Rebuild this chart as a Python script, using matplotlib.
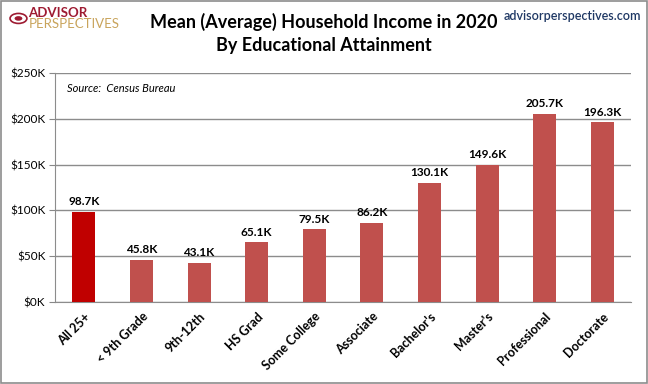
import matplotlib
matplotlib.use("Agg")
import matplotlib.pyplot as plt
from matplotlib.patches import Rectangle, Circle

categories = ["All 25+", "< 9th Grade", "9th-12th", "HS Grad", "Some College",
              "Associate", "Bachelor's", "Master's", "Professional", "Doctorate"]
income_k = [98.7, 45.8, 43.1, 65.1, 79.5, 86.2, 130.1, 149.6, 205.7, 196.3]
yticks = [0, 50, 100, 150, 200, 250]

plt.rcParams["font.family"] = ["Lato", "DejaVu Sans"]

fig = plt.figure(figsize=(6.48, 3.84), dpi=100)
ax = fig.add_axes([0.085, 0.2135, 0.889, 0.5965])

colors = ["#C00000"] + ["#C0504D"] * (len(categories) - 1)
x = list(range(len(categories)))
ax.bar(x, income_k, width=0.4, color=colors, zorder=3)
for xi, v in zip(x, income_k):
    ax.text(xi, v + 5, f"{v:.1f}K", ha="center", va="bottom",
            fontsize=8.5, fontweight="bold", zorder=4)

ax.set_xlim(-0.5, len(categories) - 0.5)
ax.set_ylim(0, 250)
ax.set_yticks(yticks)
ax.set_yticklabels([f"${t}K" for t in yticks], fontsize=8.5)
ax.set_xticks(x)
ax.set_xticklabels(categories, rotation=45, ha="right", rotation_mode="anchor",
                   fontsize=9, fontweight="bold")
ax.tick_params(axis="x", length=0, pad=6)
ax.tick_params(axis="y", length=4, color="#888888", pad=3)
ax.grid(axis="y", color="#8c8c8c", linewidth=1, zorder=0)
for side in ["top", "right"]:
    ax.spines[side].set_visible(False)
ax.spines["left"].set_color("#8c8c8c")
ax.spines["bottom"].set_color("#8c8c8c")

ax.text(0.02, 0.955, "Source:  Census Bureau", transform=ax.transAxes,
        fontsize=8, style="italic", va="top")

fig.text(0.5, 0.942, "Mean (Average) Household Income in 2020", ha="center",
         va="center", fontsize=13, fontweight="bold")
fig.text(0.5, 0.882, "By Educational Attainment", ha="center",
         va="center", fontsize=13, fontweight="bold")

fig.text(0.99, 0.975, "advisorperspectives.com", ha="right", va="top",
         fontsize=9, color="#1F3864", fontweight="semibold")

# logo
fig.patches.append(Circle((0.0285, 0.952), 0.013, transform=fig.transFigure,
                          facecolor="none", edgecolor="#9E1B32", linewidth=1.2))
fig.patches.append(Circle((0.0285, 0.952), 0.006, transform=fig.transFigure,
                          facecolor="#9E1B32", edgecolor="none"))
fig.text(0.044, 0.965, "ADVISOR", ha="left", va="center", fontsize=9.5,
         fontweight="bold", color="#9E1B32")
fig.text(0.044, 0.937, "PERSPECTIVES", ha="left", va="center", fontsize=9.5,
         color="#C9A45C")

# outer frame
fig.patches.append(Rectangle((0.002, 0.003), 0.996, 0.994, transform=fig.transFigure,
                             facecolor="none", edgecolor="#8c8c8c", linewidth=1.2))

fig.savefig("out.png", dpi=100)
